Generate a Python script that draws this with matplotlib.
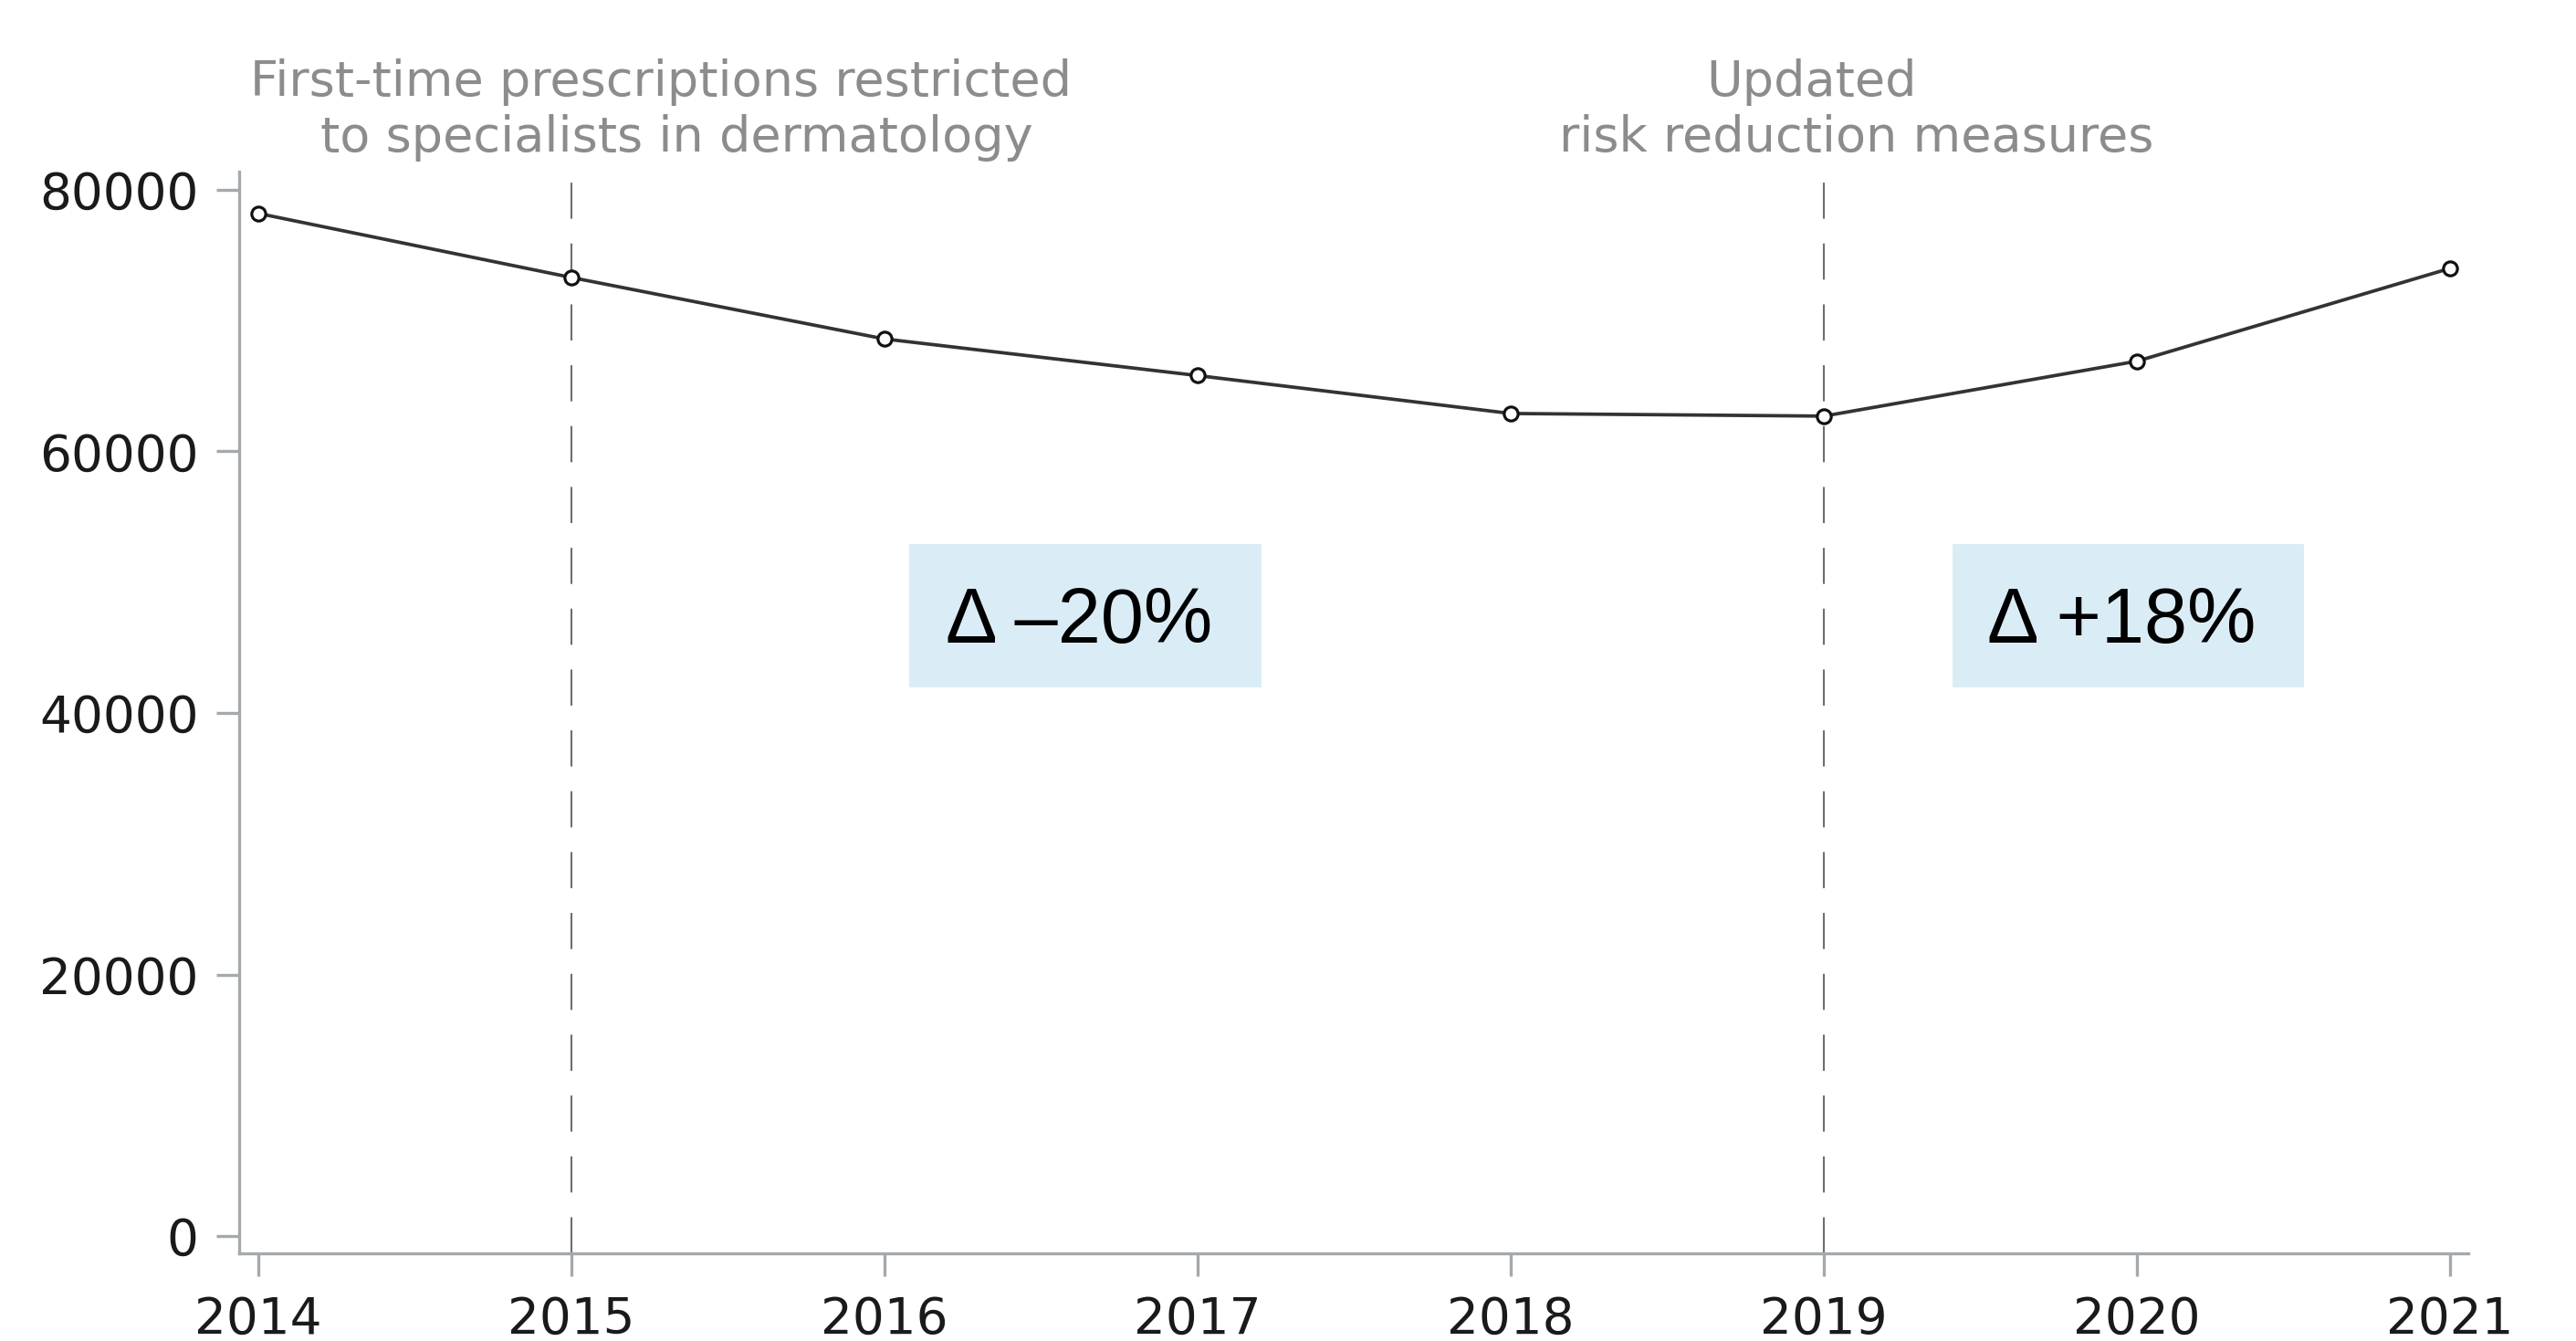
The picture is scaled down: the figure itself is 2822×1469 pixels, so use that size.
import matplotlib
matplotlib.use("Agg")
import matplotlib.pyplot as plt
import matplotlib.transforms as mtransforms
from matplotlib.patches import Rectangle

# prescriptions per year
years = [2014, 2015, 2016, 2017, 2018, 2019, 2020, 2021]
counts = [78200, 73300, 68600, 65800, 62900, 62700, 66900, 74000]

event_years = [2015, 2019]
event_lines = [
    ["First-time prescriptions restricted", "to specialists in dermatology"],
    ["Updated", "risk reduction measures"],
]
delta_labels = ["\u0394 \u201320%", "\u0394 +18%"]

grey = "#a4a9ac"

fig = plt.figure(figsize=(28.22, 14.69), dpi=100)
ax = fig.add_axes([262 / 2822, 96 / 1469, (2704 - 262) / 2822, (1373 - 188) / 1469])

ax.plot(years, counts, color="#333333", lw=2.7, marker="o", ms=11,
        mfc="white", mec="#111111", mew=2.3, zorder=3)

for yr in event_years:
    ax.axvline(yr, color="#6e6e6e", lw=1.5, dashes=(19, 13), zorder=1)

ax.set_xlim(2013.939, 2021.058)
ax.set_ylim(-1326, 81396)
ax.set_xticks(years)
ax.set_yticks([0, 20000, 40000, 60000, 80000])

for s in ["top", "right"]:
    ax.spines[s].set_visible(False)
for s in ["left", "bottom"]:
    ax.spines[s].set_color(grey)
    ax.spines[s].set_linewidth(2.4)

ax.tick_params(axis="both", colors=grey, width=2.4, length=18,
               labelsize=39.5, labelcolor="#1a1a1a")
ax.tick_params(axis="y", pad=14)
ax.tick_params(axis="x", pad=15)

# notes above the event lines
trans = mtransforms.blended_transform_factory(ax.transData, fig.transFigure)
note_x = [[2015.286, 2015.335], [2018.96, 2019.105]]
for lines, xs in zip(event_lines, note_x):
    for txt, x, ypx in zip(lines, xs, [105, 166]):
        ax.text(x, 1 - ypx / 1469, txt, transform=trans,
                ha="center", va="baseline", fontsize=39, color="#8c8c8c")

# change boxes
boxes = [(2016.078, 2017.204), (2019.41, 2020.533)]
box_lo, box_hi = 41955, 52914
for (x0, x1), lab in zip(boxes, delta_labels):
    ax.add_patch(Rectangle((x0, box_lo), x1 - x0, box_hi - box_lo,
                           facecolor="#daedf7", edgecolor="none", zorder=2))
    ax.text((x0 + x1) / 2 - 0.02, (box_lo + box_hi) / 2 - 500, lab, ha="center", va="center",
            fontsize=61, family="Liberation Sans", color="black", zorder=4)

fig.savefig("out.png", dpi=100)
